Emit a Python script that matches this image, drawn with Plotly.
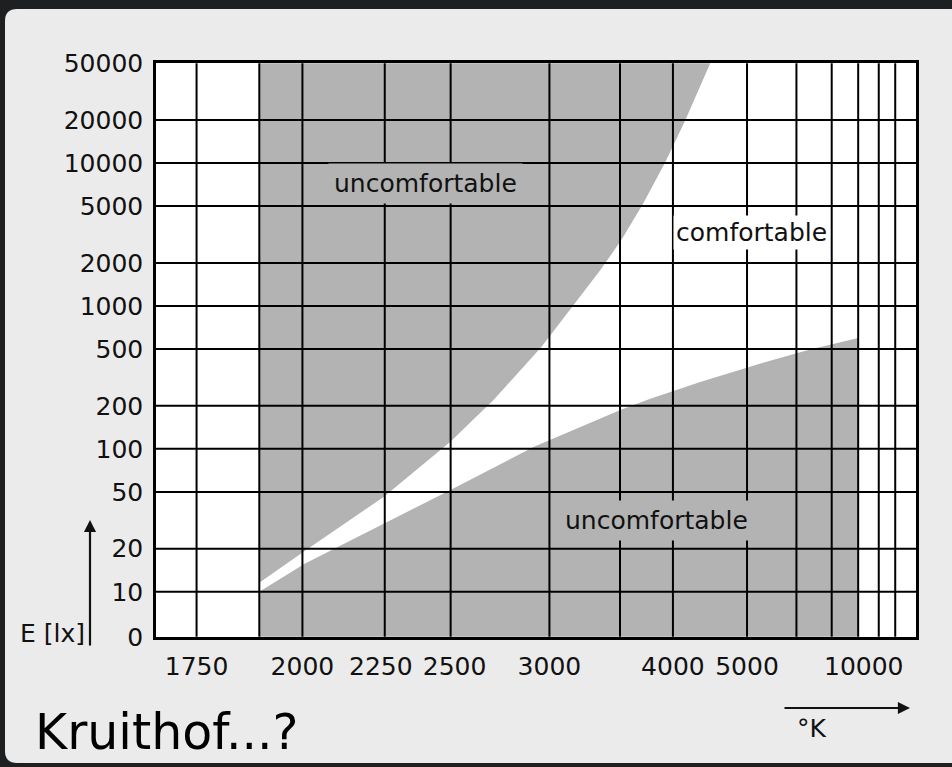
import math
import plotly.graph_objects as go

# ---------------- data ----------------
# colour temperature grid (K) and illuminance grid (lx)
GRID_T = [1750, 1890, 2000, 2250, 2500, 3000, 3500, 4000, 5000, 6000, 7000, 8000, 9000, 10000]
GRID_E = [10, 20, 50, 100, 200, 500, 1000, 2000, 5000, 10000, 20000]

NB = "\u00a0"
TICK_T = [1750, 2000, 2250, 2500, 3000, 4000, 5000, 10000]
TICK_T_TEXT = ["1750", "2000", "2250" + NB, NB + "2500", "3000", "4000", "5000", "10000"]
TICK_E = [4.84, 10, 20, 50, 100, 200, 500, 1000, 2000, 5000, 10000, 20000, 50000]
TICK_E_TEXT = ["0", "10", "20", "50", "100", "200", "500", "1000", "2000", "5000",
               "10000", "20000", "50000"]

T_MIN, T_MAX = 1670, 11630      # frame edges
E_MIN, E_MAX = 4.84, 50000      # frame edges ("0" line and top)

# upper limit of the comfortable zone (above: uncomfortable)
UPPER_T = [1890, 2006, 2246, 2499, 2695, 2952, 3133, 3345, 3511, 3695, 3919, 4138, 4448]
UPPER_E = [11.55, 19.3, 46.1, 112, 220, 516, 952, 1784, 2893, 5082, 10150, 19970, 50000]

# lower limit of the comfortable zone (below: uncomfortable)
LOWER_T = [1890, 2006, 2246, 2483, 2906, 3503, 3770, 4318, 5270, 6299, 8000]
LOWER_E = [10, 15.7, 29.9, 50, 103, 187, 224, 294, 399, 492, 597]

SHADE_T_START = 1890
LOWER_T_END = 8000

# ---------------- helpers ----------------
def mired(t):
    return 1e6 / t

L, R, T, B = 156, 36, 63, 130
W, H = 952, 767
PW, PH = W - L - R, H - T - B

def px(x):
    return (x - L) / PW

def py(y):
    return (H - B - y) / PH

GRAY = "#b3b3b3"
FONT = "DejaVu Sans"
INK = "#111111"

fig = go.Figure()

# upper uncomfortable region
ux = [mired(SHADE_T_START)] + [mired(t) for t in UPPER_T] + [mired(SHADE_T_START)]
uy = [E_MAX] + UPPER_E + [E_MAX]
fig.add_trace(go.Scatter(x=ux, y=uy, mode="lines", line=dict(width=0),
                         fill="toself", fillcolor=GRAY, hoverinfo="skip"))

# lower uncomfortable region
lx = [mired(SHADE_T_START)] + [mired(t) for t in LOWER_T] + [mired(LOWER_T_END)]
ly = [E_MIN] + LOWER_E + [E_MIN]
fig.add_trace(go.Scatter(x=lx, y=ly, mode="lines", line=dict(width=0),
                         fill="toself", fillcolor=GRAY, hoverinfo="skip"))

# grid lines (drawn above the shading)
gx, gy = [], []
for t in GRID_T:
    gx += [mired(t), mired(t), None]
    gy += [E_MIN, E_MAX, None]
for e in GRID_E:
    gx += [mired(T_MIN), mired(T_MAX), None]
    gy += [e, e, None]
fig.add_trace(go.Scatter(x=gx, y=gy, mode="lines", line=dict(color="black", width=2),
                         hoverinfo="skip"))

# the last temperature label sits left of its grid line in the original,
# so it is written separately; the others are regular tick labels
fig.update_xaxes(range=[mired(T_MIN), mired(T_MAX)], showgrid=False, zeroline=False,
                 tickmode="array", tickvals=[mired(t) for t in TICK_T[:-1]],
                 ticktext=TICK_T_TEXT[:-1],
                 ticks="", showline=True, mirror=True, linecolor="black", linewidth=2.5,
                 layer="above traces", ticklabelstandoff=5,
                 tickangle=0, automargin=False,
                 tickfont=dict(family=FONT, size=25, color=INK))
fig.update_yaxes(type="log", range=[math.log10(E_MIN) - 0.0015, math.log10(E_MAX) + 0.0015],
                 showgrid=False, zeroline=False,
                 tickmode="array", tickvals=TICK_E, ticktext=TICK_E_TEXT,
                 ticks="", showline=True, mirror=True, linecolor="black", linewidth=2.5,
                 layer="above traces", ticklabelstandoff=5, automargin=False,
                 tickfont=dict(family=FONT, size=25, color=INK))

ann = []
ann.append(dict(x=mired(TICK_T[-1]), y=py(666), xref="x", yref="paper", text=TICK_T_TEXT[-1],
                xshift=-31, xanchor="center", yanchor="middle", showarrow=False,
                font=dict(family=FONT, size=25, color=INK)))
# zone labels
ann.append(dict(x=mired(2400), y=math.log10(7250), xref="x", yref="y", text="uncomfortable",
                showarrow=False, bgcolor=GRAY, borderpad=5,
                font=dict(family=FONT, size=25, color=INK)))
ann.append(dict(x=mired(5080), y=math.log10(3290), xref="x", yref="y", text="comfortable",
                showarrow=False, bgcolor="white", borderpad=2,
                font=dict(family=FONT, size=25, color=INK)))
ann.append(dict(x=mired(3833), y=math.log10(31.3), xref="x", yref="y", text="uncomfortable",
                showarrow=False, bgcolor=GRAY, borderpad=5,
                font=dict(family=FONT, size=25, color=INK)))
# axis titles and arrows
ann.append(dict(x=px(18), y=py(633), xref="paper", yref="paper", text="E [lx]",
                xanchor="left", yanchor="middle", showarrow=False,
                font=dict(family=FONT, size=25, color=INK)))
ann.append(dict(x=px(90), y=py(520), xref="paper", yref="paper", text="",
                showarrow=True, ax=0, ay=127, axref="pixel", ayref="pixel",
                arrowhead=2, arrowsize=1.1, arrowwidth=2.2, arrowcolor=INK))
ann.append(dict(x=px(910), y=py(708), xref="paper", yref="paper", text="",
                showarrow=True, ax=-127, ay=0, axref="pixel", ayref="pixel",
                arrowhead=2, arrowsize=1.1, arrowwidth=2.2, arrowcolor=INK))
ann.append(dict(x=px(812), y=py(728), xref="paper", yref="paper", text="°K",
                xanchor="center", yanchor="middle", showarrow=False,
                font=dict(family=FONT, size=25, color=INK)))
ann.append(dict(x=px(33), y=py(732), xref="paper", yref="paper", text="Kruithof...?",
                xanchor="left", yanchor="middle", showarrow=False,
                font=dict(family=FONT, size=49, color="#000000")))

# light panel behind the chart (rounded left corners)
x0, x1, y0, y1 = px(5), px(960), py(763), py(9)
rx, ry = 12 / PW, 12 / PH
panel = (f"M {x0 + rx},{y1} L {x1},{y1} L {x1},{y0} L {x0 + rx},{y0} "
         f"Q {x0},{y0} {x0},{y0 + ry} L {x0},{y1 - ry} Q {x0},{y1} {x0 + rx},{y1} Z")

fig.update_layout(
    width=W, height=H,
    margin=dict(l=L, r=R, t=T, b=B, autoexpand=False),
    paper_bgcolor="#1e1f20",
    plot_bgcolor="white",
    showlegend=False,
    annotations=ann,
    shapes=[
        dict(type="path", xref="paper", yref="paper", path=panel,
             fillcolor="#ebebeb", line=dict(width=0), layer="below"),
        dict(type="rect", xref="x domain", yref="y domain", x0=0, x1=1, y0=0, y1=1,
             fillcolor="white", line=dict(width=0), layer="below"),
    ],
)

fig.write_html("out.html", config={"displayModeBar": False},
               post_script="document.body.style.margin='0px';"
                           "document.body.style.background='#1e1f20';")
